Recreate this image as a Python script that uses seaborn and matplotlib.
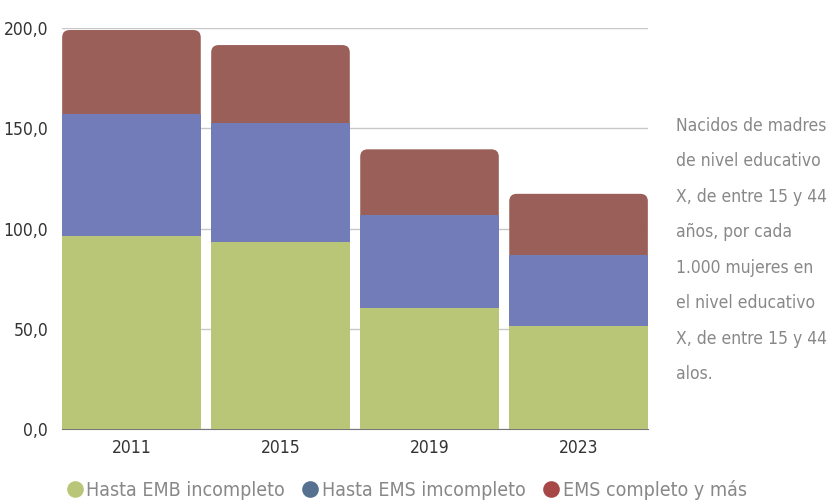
import matplotlib
matplotlib.use("Agg")
import matplotlib.pyplot as plt
import numpy as np
import pandas as pd
import seaborn as sns
from matplotlib.patches import FancyBboxPatch
from matplotlib.lines import Line2D

years = ["2011", "2015", "2019", "2023"]
hasta_emb = [96.5, 93.5, 60.6, 51.5]
hasta_ems = [60.5, 59.2, 46.1, 35.2]
ems_completo = [42.0, 38.8, 32.8, 30.6]
series_names = ["Hasta EMB incompleto", "Hasta EMS imcompleto", "EMS completo y más"]
yticks = [0, 50, 100, 150, 200]

bar_colors = ["#b9c677", "#727cb8", "#9a5f58"]
legend_colors = ["#b9c677", "#56708f", "#a64848"]

sns.set_style("white")
plt.rcParams["font.family"] = ["DejaVu Sans"]
plt.rcParams["font.stretch"] = "condensed"

df = pd.DataFrame({"year": years, "emb": hasta_emb, "ems": hasta_ems, "comp": ems_completo})
df["lvl1"] = df["emb"]
df["lvl2"] = df["emb"] + df["ems"]
df["lvl3"] = df["lvl2"] + df["comp"]

fig = plt.figure(figsize=(8.28, 5.04), dpi=100)
ax = fig.add_axes([0.0749, 0.1488, 0.7077, 0.7956])

w = 0.93
# draw cumulative layers back to front
sns.barplot(data=df, x="year", y="lvl3", color=bar_colors[2], width=w, saturation=1,
            linewidth=0, ax=ax)
top_patches = list(ax.patches)
sns.barplot(data=df, x="year", y="lvl2", color=bar_colors[1], width=w, saturation=1,
            linewidth=0, ax=ax)
sns.barplot(data=df, x="year", y="lvl1", color=bar_colors[0], width=w, saturation=1,
            linewidth=0, ax=ax)

ax.set_xlim(-0.5 + (1 - w) / 2 - 0.001, 3.5 - (1 - w) / 2 + 0.001)
ax.set_ylim(0, 200)

# rounded top corners on the red bars
fig.canvas.draw()
xpx = ax.transData.transform([(0, 0), (1, 1)])
ax_ratio = (1 / (xpx[1][1] - xpx[0][1])) / (1 / (xpx[1][0] - xpx[0][0]))
for p in top_patches:
    x0, y0 = p.get_x(), p.get_y()
    pw, ph = p.get_width(), p.get_height()
    fb = FancyBboxPatch((x0, y0), pw, ph,
                        boxstyle="round,pad=0,rounding_size=0.05",
                        mutation_aspect=ax_ratio,
                        facecolor=p.get_facecolor(), edgecolor="none")
    p.remove()
    ax.add_patch(fb)
    fb.set_zorder(0.9)

ax.set_yticks(yticks)
ax.set_yticklabels([f"{v:.1f}".replace(".", ",") for v in yticks])
ax.yaxis.grid(True, color="#c8c8c8", linewidth=1)
ax.set_axisbelow(True)
ax.tick_params(axis="both", length=0, labelsize=12.5, labelcolor="#333333")
ax.tick_params(axis="y", pad=10)
ax.tick_params(axis="x", pad=7)
ax.set_xlabel("")
ax.set_ylabel("")
for s in ["top", "right", "left"]:
    ax.spines[s].set_visible(False)
ax.spines["bottom"].set_color("#777777")
ax.spines["bottom"].set_zorder(0.5)

note = ("Nacidos de madres\nde nivel educativo\nX, de entre 15 y 44\naños, por cada\n"
        "1.000 mujeres en\nel nivel educativo\nX, de entre 15 y 44\nalos.")
fig.text(0.817, 0.768, note, ha="left", va="top", fontsize=12.5, color="#888888",
         linespacing=2.25)

handles = [Line2D([0], [0], marker="o", linestyle="none", markersize=12,
                  markerfacecolor=c, markeredgecolor="none") for c in legend_colors]
leg = fig.legend(handles, series_names, loc="center", bbox_to_anchor=(0.49, 0.028),
                 ncol=3, frameon=False, fontsize=14, handletextpad=0.1,
                 columnspacing=0.8, handlelength=1.0)
for t in leg.get_texts():
    t.set_color("#888888")

fig.savefig("out.png", dpi=100)
